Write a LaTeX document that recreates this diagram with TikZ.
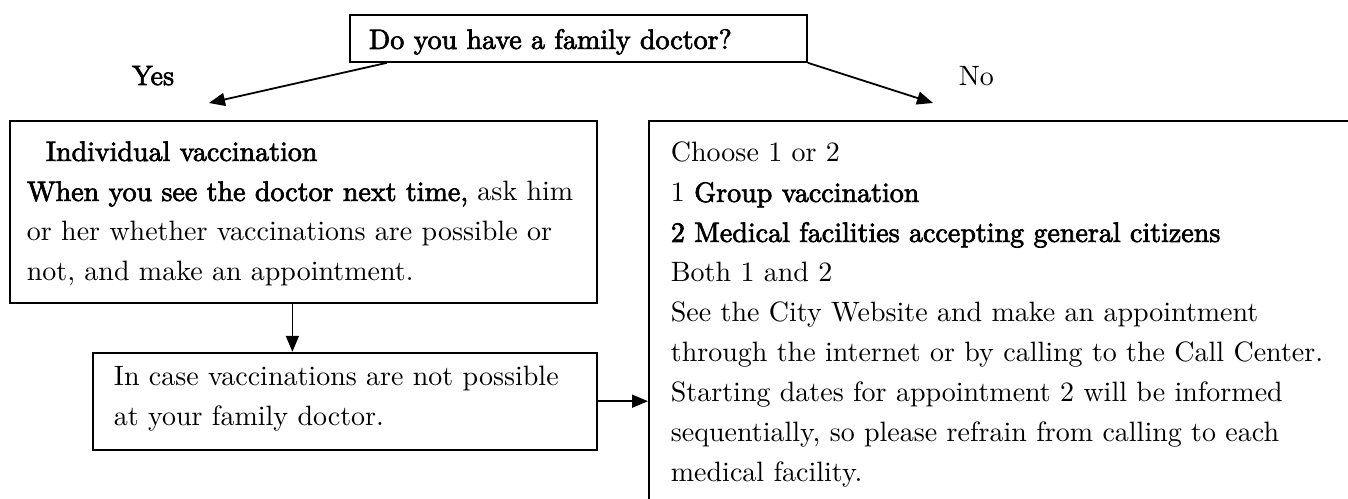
\documentclass[tikz,border=0pt]{standalone}
\usepackage{fontspec}
\setmainfont{lmroman10-regular}[Extension=.otf, BoldFont=lmroman10-regular, BoldFeatures={FakeBold=2.5}]
\usepackage{tikz}
\usetikzlibrary{arrows.meta}
\usetikzlibrary{positioning}

\begin{document}
\begin{tikzpicture}[x=0.5pt,y=-0.5pt,>={Triangle[length=8pt,width=6.5pt]},line width=0.9pt,font=\fontsize{14pt}{20pt}\selectfont]
  \tikzstyle{box}=[draw, rectangle, align=left, inner ysep=0pt]
  \tikzstyle{answer}=[inner sep=0pt]
  \useasboundingbox (0,0) rectangle (1348,498);
  \clip (0,0) rectangle (1348,498);
  % question and the two answers
  \node[box, anchor=north west, text width=209.5pt, inner xsep=9.5pt, text height=17pt, text depth=6.5pt] (ask) at (349,14) {\textbf{Do you have a family doctor?}};
  \node[answer, anchor=base east] (yes) at (175,85) {\textbf{Yes}};
  \node[answer, anchor=base west] (no) at (958,85) {No};
  \coordinate (yestip) at (209,103);
  \coordinate (notip) at (933,103);
  % left column
  \node[box, anchor=north west, text width=276.5pt, inner xsep=8.5pt] (indiv) at (9,120)
    {\rule{0pt}{20pt}\hspace*{9.5pt}\textbf{Individual vaccination}\\
     \textbf{When you see the doctor next time,} ask him\\
     or her whether vaccinations are possible or\\
     not, and make an appointment.\rule[-11pt]{0pt}{11pt}};
  \node[box, text width=231pt, inner xsep=10.5pt] (lower) [below left=24pt and 0pt of indiv.south east]
    {\rule{0pt}{16.5pt}In case vaccinations are not possible\\
     at your family doctor.\rule[-12pt]{0pt}{12pt}};
  % right column, runs off the page
  \node[box, anchor=north west, text width=350pt, inner xsep=11pt] (group) at (648,120)
    {\rule{0pt}{20.5pt}Choose 1 or 2\\
     1 \textbf{Group vaccination}\\
     \textbf{2 Medical facilities accepting general citizens}\\
     Both 1 and 2\\
     See the City Website and make an appointment\\
     through the internet or by calling to the Call Center.\\
     Starting dates for appointment 2 will be informed\\
     sequentially, so please refrain from calling to each\\
     medical facility.\rule[-30pt]{0pt}{30pt}};
  \draw[->] ([xshift=19pt]ask.south west) -- (yestip);
  \draw[->] (ask.south east) -- (notip);
  \draw[->] ([xshift=-5.5pt]indiv.south) -- ([xshift=-5.5pt]indiv.south |- lower.north);
  \draw[->] (lower.east) -- (lower.east -| group.west);
\end{tikzpicture}
\end{document}
